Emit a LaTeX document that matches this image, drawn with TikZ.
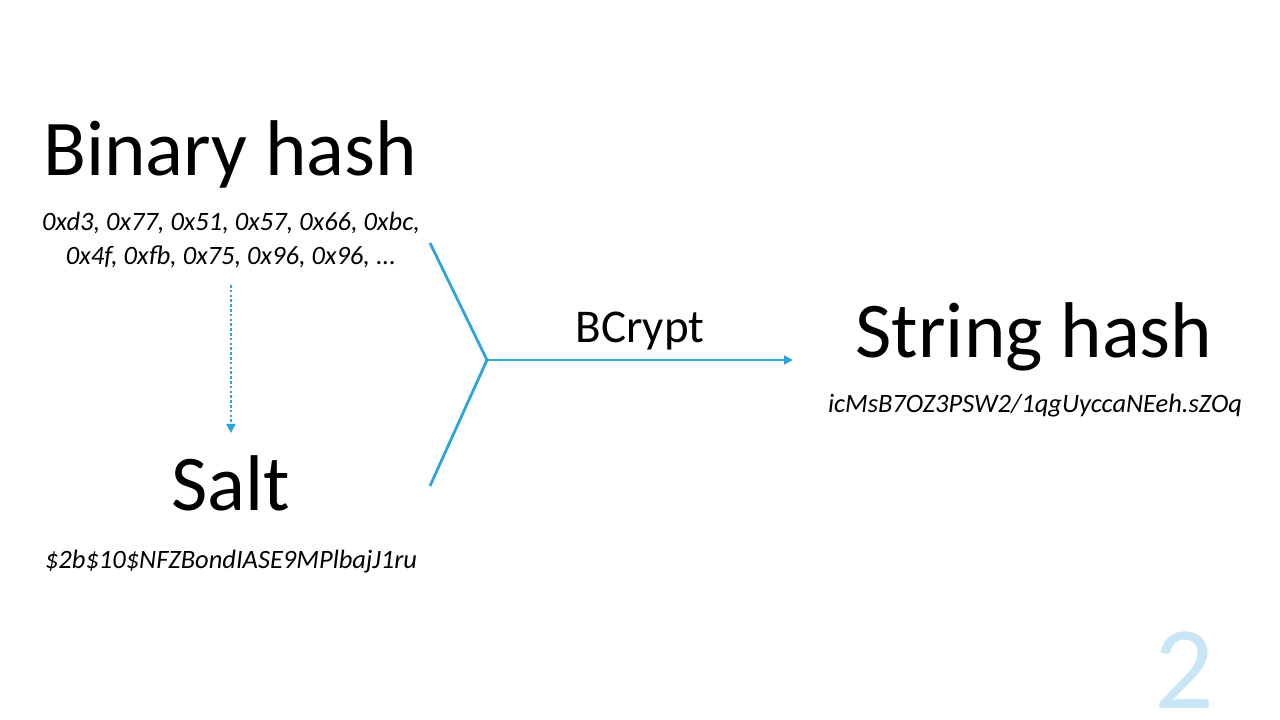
\documentclass[tikz,border=0pt]{standalone}
\usepackage{fontspec}
\setmainfont{Carlito}
\usepackage{xcolor}
\usetikzlibrary{calc, arrows.meta, positioning}
\definecolor{bcblue}{RGB}{45,165,220}
\definecolor{pageblue}{RGB}{200,230,246}

\begin{document}
\begin{tikzpicture}[x=1pt, y=-1pt, >=latex]
		\tikzstyle{title} = [inner sep=0, anchor=base, font=\fontsize{79}{95}\selectfont]
		\tikzstyle{value} = [inner sep=0, align=center, font=\fontsize{26.5}{34}\selectfont\itshape]
		\tikzstyle{link} = [draw=bcblue, line width=2.8pt]
		\tikzstyle{arrow} = [link, -{Triangle[length=9pt, width=9pt]}]
		
		\useasboundingbox (0, 0) rectangle (1280, 720);
		
		\node[title]	at (230, 175)	(bin)		{Binary hash};
		\node[value]	at (231, 240)	(binval)	{0xd3, 0x77, 0x51, 0x57, 0x66, 0xbc,\\0x4f, 0xfb, 0x75, 0x96, 0x96, ...};
		\node[title]	at (231, 510)	(salt)		{Salt};
		\node[value, anchor=base]	at (231, 568)	(saltval)	{\$2b\$10\$NFZBondIASE9MPlbajJ1ru};
		
		\node[title]	at (1034, 357)	(str)		{String hash};
		\node[value, anchor=base]	at (1035, 412)	(strval)	{icMsB7OZ3PSW2/1qgUyccaNEeh.sZOq};
		
		\node[inner sep=0, anchor=base, font=\fontsize{47}{56}\selectfont]	at (640, 342)	(bcrypt)	{BCrypt};
		\node[inner sep=0, anchor=base, text depth=0pt, text=pageblue, font=\fontsize{118}{140}\selectfont]	at (1184, 708)	(page)	{2};
		
		\coordinate (upend)	at (430, 243);
		\coordinate (lowend)	at (430, 486);
		\coordinate (join)	at (487, 360);
		\coordinate (tip)	at (793, 360);
		
		\draw [link] (upend) -- (join) -- (lowend);
		\draw [arrow] (join) -- (tip);
		\draw [bcblue, line width=2.6pt, dash pattern=on 2.6pt off 2.2pt, -{Triangle[length=9pt, width=9pt]}, shorten <=17pt, shorten >=22pt] (binval.south -| salt) -- (salt.north);
	\end{tikzpicture}
\end{document}
